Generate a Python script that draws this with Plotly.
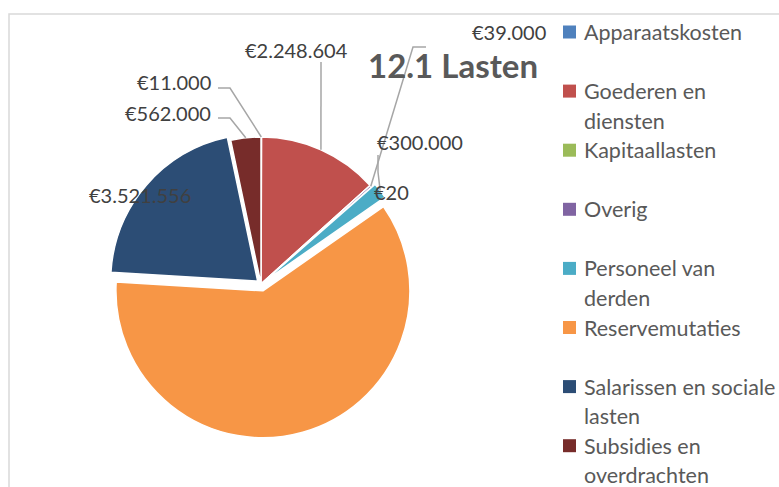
import math
import plotly.graph_objects as go

# ---- data -------------------------------------------------------------
categories = [
    "Apparaatskosten",
    "Goederen en diensten",
    "Kapitaallasten",
    "Overig",
    "Personeel van derden",
    "Reservemutaties",
    "Salarissen en sociale lasten",
    "Subsidies en overdrachten",
]
# legend text, wrapped the way the legend shows it
legend_names = [
    "Apparaatskosten",
    "Goederen en<br>diensten",
    "Kapitaallasten",
    "Overig",
    "Personeel van<br>derden",
    "Reservemutaties",
    "Salarissen en sociale<br>lasten",
    "Subsidies en<br>overdrachten",
]
values = [11000, 2248604, 20, 39000, 300000, 10300000, 3521556, 562000]
labelled = [True, True, True, True, True, False, True, True]
title_text = "12.1 Lasten"

# ---- style ------------------------------------------------------------
W, H = 779, 487
colors = ["#4F81BD", "#C0504D", "#9BBB59", "#8064A2",
          "#4BACC6", "#F79646", "#2C4D75", "#772C2A"]
pulls = [0, 0, 0, 0, 0.03, 0.048, 0.03, 0]
CX, CY, RAD = 261, 284, 147          # pie centre and radius in px
FONT = "Lato, 'Open Sans', sans-serif"
LABEL_COLOR = "#404040"
TEXT_COLOR = "#595959"
LEADER_COLOR = "#A6A6A6"

# label placement (px): x, y, anchor
label_place = {
    0: (213, 82, "right"),
    1: (243, 50, "left"),
    2: (372, 192, "left"),
    3: (470, 32, "left"),
    4: (375, 142, "left"),
    6: (87, 195, "left"),
    7: (213, 113, "right"),
}
# leader line start points (px), ending on the slice edge
leader_start = {
    0: [(218, 88), (230, 88)],
    1: [(321, 62)],
    3: [(426, 47), (413, 47)],
    4: [(378, 155), (378, 172)],
    7: [(218, 118), (230, 118)],
}

# legend layout (px)
LEG_KEY_X = 563
LEG_KEY_SIZE = 13
LEG_TEXT_X = 582
LEG_TOP = 32          # centre of the first legend line
LEG_ROW = 59.1        # distance between legend entries
LEG_LINE = 29.5       # distance between wrapped lines
LEG_FONT = 21.5


def px(x):
    return x / W


def py(y):
    return 1 - y / H


def euro(v):
    return "€" + f"{v:,}".replace(",", ".")


# domain sized so the pie radius equals RAD after allowing for the pull
half = RAD * (1 + max(pulls))
domain_x = [px(CX - half), px(CX + half)]
domain_y = [py(CY + half), py(CY - half)]

fig = go.Figure(
    go.Pie(
        labels=categories,
        values=values,
        sort=False,
        direction="clockwise",
        rotation=0,
        pull=pulls,
        marker=dict(colors=colors, line=dict(color="white", width=1.5)),
        textinfo="none",
        hoverinfo="label+value",
        domain=dict(x=domain_x, y=domain_y),
        showlegend=False,
    )
)

# slice mid angles (degrees clockwise from 12 o'clock)
total = sum(values)
mids = []
acc = 0
for v in values:
    mids.append((acc + v / 2) / total * 360)
    acc += v

annotations = []
shapes = []

# chart frame
shapes.append(dict(type="rect", xref="paper", yref="paper",
                   x0=px(9), y0=py(H + 20), x1=px(W + 20), y1=py(14),
                   line=dict(color="#D9D9D9", width=1.5), layer="below"))

# value labels with leader lines
for i, v in enumerate(values):
    if not labelled[i]:
        continue
    x, y, anchor = label_place[i]
    annotations.append(dict(
        x=px(x), y=py(y), xref="paper", yref="paper",
        text=euro(v), showarrow=False, xanchor=anchor, yanchor="middle",
        font=dict(family=FONT, size=20, color=LABEL_COLOR),
    ))
    if i in leader_start:
        a = math.radians(mids[i])
        r = RAD * (1 + pulls[i])
        ex = CX + r * math.sin(a)
        ey = CY - r * math.cos(a)
        pts = leader_start[i] + [(ex, ey)]
        path = "M " + " L ".join(f"{px(a_)},{py(b_)}" for a_, b_ in pts)
        shapes.append(dict(type="path", xref="paper", yref="paper", path=path,
                           line=dict(color=LEADER_COLOR, width=1.5)))

# title
annotations.append(dict(
    x=px(453), y=py(65), xref="paper", yref="paper",
    text="<b>" + title_text + "</b>", showarrow=False,
    xanchor="center", yanchor="middle",
    font=dict(family=FONT, size=33, color=TEXT_COLOR),
))

# legend: colour key plus (wrapped) category name per entry
for i, name in enumerate(legend_names):
    yc = LEG_TOP + i * LEG_ROW
    shapes.append(dict(
        type="rect", xref="paper", yref="paper",
        x0=px(LEG_KEY_X), x1=px(LEG_KEY_X + LEG_KEY_SIZE),
        y0=py(yc + LEG_KEY_SIZE / 2), y1=py(yc - LEG_KEY_SIZE / 2),
        fillcolor=colors[i], line=dict(width=0),
    ))
    for j, line in enumerate(name.split("<br>")):
        annotations.append(dict(
            x=px(LEG_TEXT_X), y=py(yc + j * LEG_LINE), xref="paper", yref="paper",
            text=line, showarrow=False, xanchor="left", yanchor="middle",
            font=dict(family=FONT, size=LEG_FONT, color=TEXT_COLOR),
        ))

fig.update_layout(
    width=W, height=H,
    margin=dict(l=0, r=0, t=0, b=0),
    paper_bgcolor="white",
    plot_bgcolor="white",
    showlegend=False,
    annotations=annotations,
    shapes=shapes,
)

fig.write_html("out.html")
